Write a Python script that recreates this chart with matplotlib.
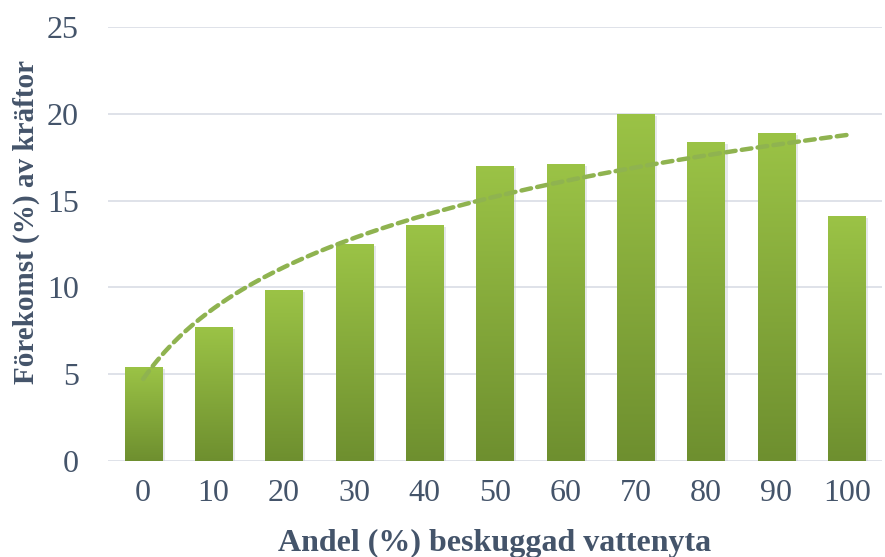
import numpy as np
import matplotlib.pyplot as plt
from matplotlib.colors import LinearSegmentedColormap

# andel beskuggad vattenyta (%) och förekomst av kräftor (%)
shade = [0, 10, 20, 30, 40, 50, 60, 70, 80, 90, 100]
occurrence = [5.4, 7.7, 9.85, 12.5, 13.6, 17.0, 17.1, 20.0, 18.4, 18.9, 14.1]
yticks = [0, 5, 10, 15, 20, 25]

plt.rcParams['font.family'] = ['Liberation Serif', 'DejaVu Serif']
txt_color = '#44546a'

fig = plt.figure(figsize=(8.85, 5.57), dpi=100)
ax = fig.add_axes([108/885, 96/557, 774/885, 434/557])

x = np.arange(len(shade))
w = 0.53

# gradient fill, light green at top -> darker at bottom
cmap = LinearSegmentedColormap.from_list('grn', ['#6e8f2f', '#9bc346'])
grad = np.linspace(0, 1, 256).reshape(-1, 1)

# soft shadow behind each bar
ax.bar(x + 0.04, occurrence, w, bottom=-0.12, color='#c8ccd4', alpha=0.45,
       zorder=2, linewidth=0)
bars = ax.bar(x, occurrence, w, color='none', zorder=3, linewidth=0)
for b in bars:
    x0, h = b.get_x(), b.get_height()
    im = ax.imshow(grad, cmap=cmap, origin='lower', aspect='auto',
                   extent=[x0, x0 + w, 0, h], zorder=3)
    im.set_clip_path(b)

# logarithmic trendline fitted to the bars
a, c = np.polyfit(np.log(x + 1), occurrence, 1)
xt = np.linspace(0, len(shade) - 1, 200)
ax.plot(xt, a * np.log(xt + 1) + c, linestyle=(0, (2.2, 1.4)), color='#8fb350',
        linewidth=3.2, zorder=4, dash_capstyle='round')

ax.set_xlim(-0.5, len(shade) - 0.5)
ax.set_ylim(0, 25)
ax.set_yticks(yticks)
ax.set_xticks(x)
ax.set_xticklabels([str(s) for s in shade])
ax.grid(axis='y', color='#d9dde5', linewidth=1.2, zorder=0)
ax.set_axisbelow(True)
for s in ax.spines.values():
    s.set_visible(False)
ax.tick_params(length=0, labelsize=23, labelcolor=txt_color)
ax.tick_params(axis='x', pad=13)
ax.tick_params(axis='y', pad=21)

ax.set_xlabel('Andel (%) beskuggad vattenyta', fontsize=23, fontweight='bold',
              color=txt_color, va='center')
ax.set_ylabel('Förekomst (%) av kräftor', fontsize=21, fontweight='bold',
              color=txt_color, va='center')
ax.xaxis.set_label_coords(0.5, -0.19)
ax.yaxis.set_label_coords(-0.105, 0.55)

plt.savefig('out.png', dpi=100)
